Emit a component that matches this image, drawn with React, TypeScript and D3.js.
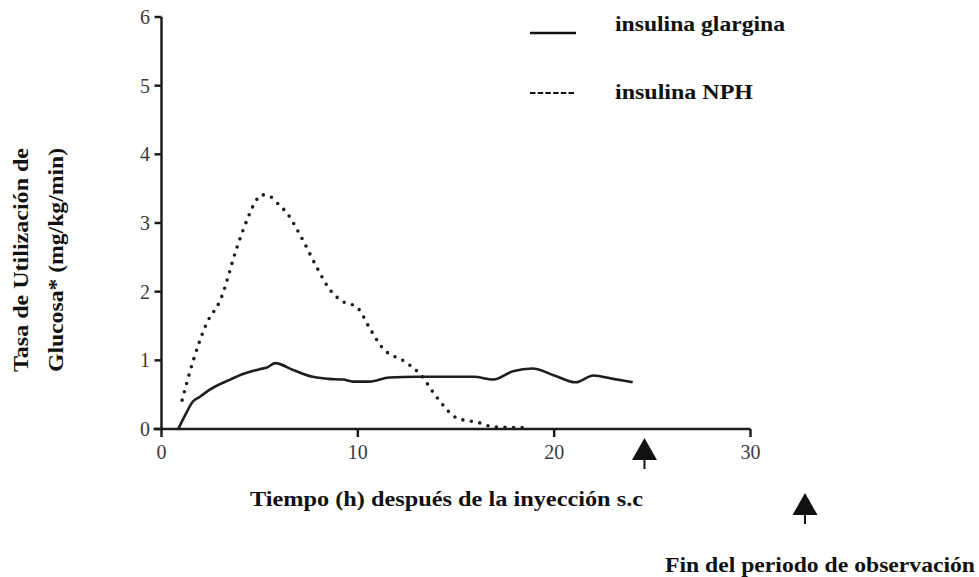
import React from "react";
import * as d3 from "d3";

const glarginaX = [0.85, 1.2, 1.6, 1.96, 2.5, 3.5, 4.15, 5.0, 5.4, 5.8, 6.7, 7.7, 8.5, 9.25, 9.75, 10.6, 11.6, 13.0, 14.5, 15.9, 16.9, 17.9, 18.9, 20.0, 21.1, 22.0, 23.0, 24.0];
const glarginaY = [0.0, 0.2, 0.4, 0.47, 0.58, 0.72, 0.8, 0.87, 0.9, 0.96, 0.86, 0.76, 0.73, 0.72, 0.69, 0.69, 0.75, 0.76, 0.76, 0.76, 0.72, 0.84, 0.88, 0.78, 0.68, 0.78, 0.73, 0.68];

const nphX = [1.05, 1.6, 2.3, 3.0, 3.85, 4.35, 4.76, 5.1, 5.5, 5.9, 6.4, 7.2, 7.9, 8.6, 9.1, 10.0, 10.6, 11.2, 12.5, 13.2, 14.0, 15.05, 16.2, 16.9, 18.5];
const nphY = [0.42, 0.98, 1.54, 1.88, 2.65, 3.04, 3.3, 3.41, 3.39, 3.29, 3.14, 2.75, 2.36, 2.02, 1.88, 1.76, 1.47, 1.2, 0.96, 0.79, 0.47, 0.16, 0.09, 0.03, 0.02];

const xTicks = [0, 10, 20, 30];
const yTicks = [0, 1, 2, 3, 4, 5, 6];
const legendLabels = ["insulina glargina", "insulina NPH"];
const xTitle = "Tiempo (h) después de la inyección s.c";
const yTitleLines = ["Tasa de Utilización de", "Glucosa* (mg/kg/min)"];
const noteText = "Fin del periodo de observación";
const endMarkerX = 24.6;

export default function App() {
  const W = 979, H = 577;
  const x = d3.scaleLinear().domain([0, 30]).range([161.5, 750.5]);
  const y = d3.scaleLinear().domain([0, 6]).range([429, 17]);
  const line = d3
    .line<[number, number]>()
    .x((d) => x(d[0]))
    .y((d) => y(d[1]))
    .curve(d3.curveMonotoneX);
  const gData = glarginaX.map((v, i) => [v, glarginaY[i]] as [number, number]);
  const nData = nphX.map((v, i) => [v, nphY[i]] as [number, number]);
  const ink = "#1e1e1e";
  const ff = { fontFamily: '"Liberation Serif", "DejaVu Serif", serif' };

  const arrow = (cx: number, tip: number) => (
    <g>
      <path d={`M${cx},${tip} L${cx - 12.5},${tip + 22} L${cx + 12.5},${tip + 22} Z`} fill="#111" />
      <line x1={cx} x2={cx} y1={tip + 20} y2={tip + 31} stroke="#111" strokeWidth={2} />
    </g>
  );

  return (
    <svg width={W} height={H} style={{ position: "absolute", left: 0, top: 0, background: "#fff" }}>
      <rect width={W} height={H} fill="#fff" />
      {/* axes */}
      <line x1={x(0)} x2={x(0)} y1={y(6)} y2={y(0)} stroke={ink} strokeWidth={2.5} />
      <line x1={x(0) - 8} x2={x(30)} y1={y(0)} y2={y(0)} stroke={ink} strokeWidth={2.5} />
      {yTicks.map((t) => (
        <g key={"y" + t}>
          <line x1={x(0) - 7} x2={x(0)} y1={y(t)} y2={y(t)} stroke={ink} strokeWidth={2.5} />
          <text x={150} y={y(t)} dy="0.35em" textAnchor="end" fontSize={20} fill="#3a3a3a" style={ff}>
            {t}
          </text>
        </g>
      ))}
      {xTicks.map((t) => (
        <g key={"x" + t}>
          <line x1={x(t)} x2={x(t)} y1={y(0)} y2={y(0) + 8} stroke={ink} strokeWidth={2.5} />
          <text x={x(t)} y={459} textAnchor="middle" fontSize={20} fill="#3a3a3a" style={ff}>
            {t}
          </text>
        </g>
      ))}
      {/* series */}
      <path d={line(nData) || ""} fill="none" stroke={ink} strokeWidth={3.6} strokeDasharray="0 8.6" strokeLinecap="round" />
      <path d={line(gData) || ""} fill="none" stroke={ink} strokeWidth={2.6} strokeLinejoin="round" />
      {/* legend */}
      <line x1={530} x2={576} y1={33} y2={33} stroke="#111" strokeWidth={2.6} />
      <text x={615} y={31} fontSize={20} fontWeight="bold" fill="#111" textLength={170} lengthAdjust="spacingAndGlyphs" style={ff}>
        {legendLabels[0]}
      </text>
      <line x1={530} x2={576} y1={93} y2={93} stroke="#111" strokeWidth={2} strokeDasharray="5.5 2.2" />
      <text x={615} y={99} fontSize={20} fontWeight="bold" fill="#111" textLength={138} lengthAdjust="spacingAndGlyphs" style={ff}>
        {legendLabels[1]}
      </text>
      {/* titles */}
      <text x={250} y={506} fontSize={20} fontWeight="bold" fill="#111" textLength={393} lengthAdjust="spacingAndGlyphs" style={ff}>
        {xTitle}
      </text>
      {yTitleLines.map((s, i) => (
        <text
          key={s}
          transform={`translate(${28 + i * 35},${260}) rotate(-90)`}
          textAnchor="middle"
          fontSize={20}
          fontWeight="bold"
          fill="#111"
          textLength={224}
          lengthAdjust="spacingAndGlyphs"
          style={ff}
        >
          {s}
        </text>
      ))}
      <text x={665} y={572} fontSize={21} fontWeight="bold" fill="#111" textLength={310} lengthAdjust="spacingAndGlyphs" style={ff}>
        {noteText}
      </text>
      {arrow(x(endMarkerX), 438)}
      {arrow(805, 493)}
    </svg>
  );
}
